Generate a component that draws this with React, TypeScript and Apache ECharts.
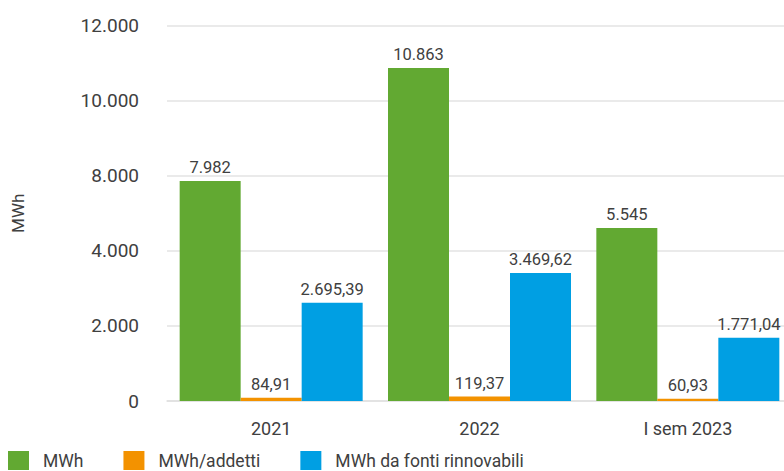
import React, { useEffect, useRef } from "react";
import * as echarts from "echarts";

const categories = ["2021", "2022", "I sem 2023"];
const yTickLabels = ["0", "2.000", "4.000", "8.000", "10.000", "12.000"];
const seriesNames = ["MWh", "MWh/addetti", "MWh da fonti rinnovabili"];
// bar heights as drawn on the axis (axis units)
const mwhHeights = [5859, 8868, 4607];
const perEmployeeHeights = [84.91, 119.37, 60.93];
const renewableHeights = [2618, 3409, 1686];
// printed value labels
const mwhLabels = ["7.982", "10.863", "5.545"];
const perEmployeeLabels = ["84,91", "119,37", "60,93"];
const renewableLabels = ["2.695,39", "3.469,62", "1.771,04"];
const colors = ["#62A932", "#F39200", "#009FE3"];

const FONT = "Roboto, 'Noto Sans', sans-serif";
const TXT = "#404040";

export default function App() {
  const ref = useRef<HTMLDivElement>(null);
  useEffect(() => {
    document.body.style.margin = "0";
    const chart = echarts.init(ref.current!, undefined, { renderer: "svg" });
    const mk = (i: number, data: number[], labels: string[]) => ({
      name: seriesNames[i],
      type: "bar",
      data,
      barWidth: 61,
      barGap: "0%",
      itemStyle: { color: colors[i] },
      label: {
        show: true,
        position: "top",
        distance: 5,
        fontSize: 16.5,
        fontFamily: FONT,
        color: TXT,
        formatter: (p: any) => labels[p.dataIndex],
      },
    });
    chart.setOption({
      animation: false,
      textStyle: { fontFamily: FONT },
      grid: {
        left: 167,
        top: 25.5,
        bottom: 70,
        right: -8,
        containLabel: false,
        outerBoundsMode: "none",
      },
      legend: {
        left: 8,
        top: 451,
        padding: 0,
        itemWidth: 21,
        itemHeight: 19,
        itemGap: 40,
        icon: "rect",
        textStyle: { fontSize: 17.5, color: TXT, fontFamily: FONT, padding: [0, 0, 0, 9] },
        data: seriesNames,
      },
      xAxis: {
        type: "category",
        data: categories,
        axisLine: { lineStyle: { color: "#e0e0e0", width: 1.5 } },
        axisTick: { show: false },
        axisLabel: { fontSize: 18, color: TXT, margin: 18, fontFamily: FONT },
      },
      yAxis: {
        type: "value",
        min: 0,
        max: 10000,
        interval: 2000,
        name: "MWh",
        nameLocation: "middle",
        nameGap: 141,
        nameRotate: 90,
        nameTextStyle: { fontSize: 17, color: TXT, fontFamily: FONT },
        axisLine: { show: false },
        axisTick: { show: false },
        splitLine: { lineStyle: { color: "#e3e3e3", width: 1.5 } },
        axisLabel: {
          fontSize: 19,
          color: TXT,
          margin: 28,
          fontFamily: FONT,
          formatter: (v: number) => yTickLabels[Math.round(v / 2000)],
        },
      },
      series: [
        mk(0, mwhHeights, mwhLabels),
        mk(1, perEmployeeHeights, perEmployeeLabels),
        mk(2, renewableHeights, renewableLabels),
      ],
    });
    return () => chart.dispose();
  }, []);
  return (
    <div
      ref={ref}
      style={{ position: "absolute", left: 0, top: 0, width: 784, height: 471 }}
    />
  );
}
